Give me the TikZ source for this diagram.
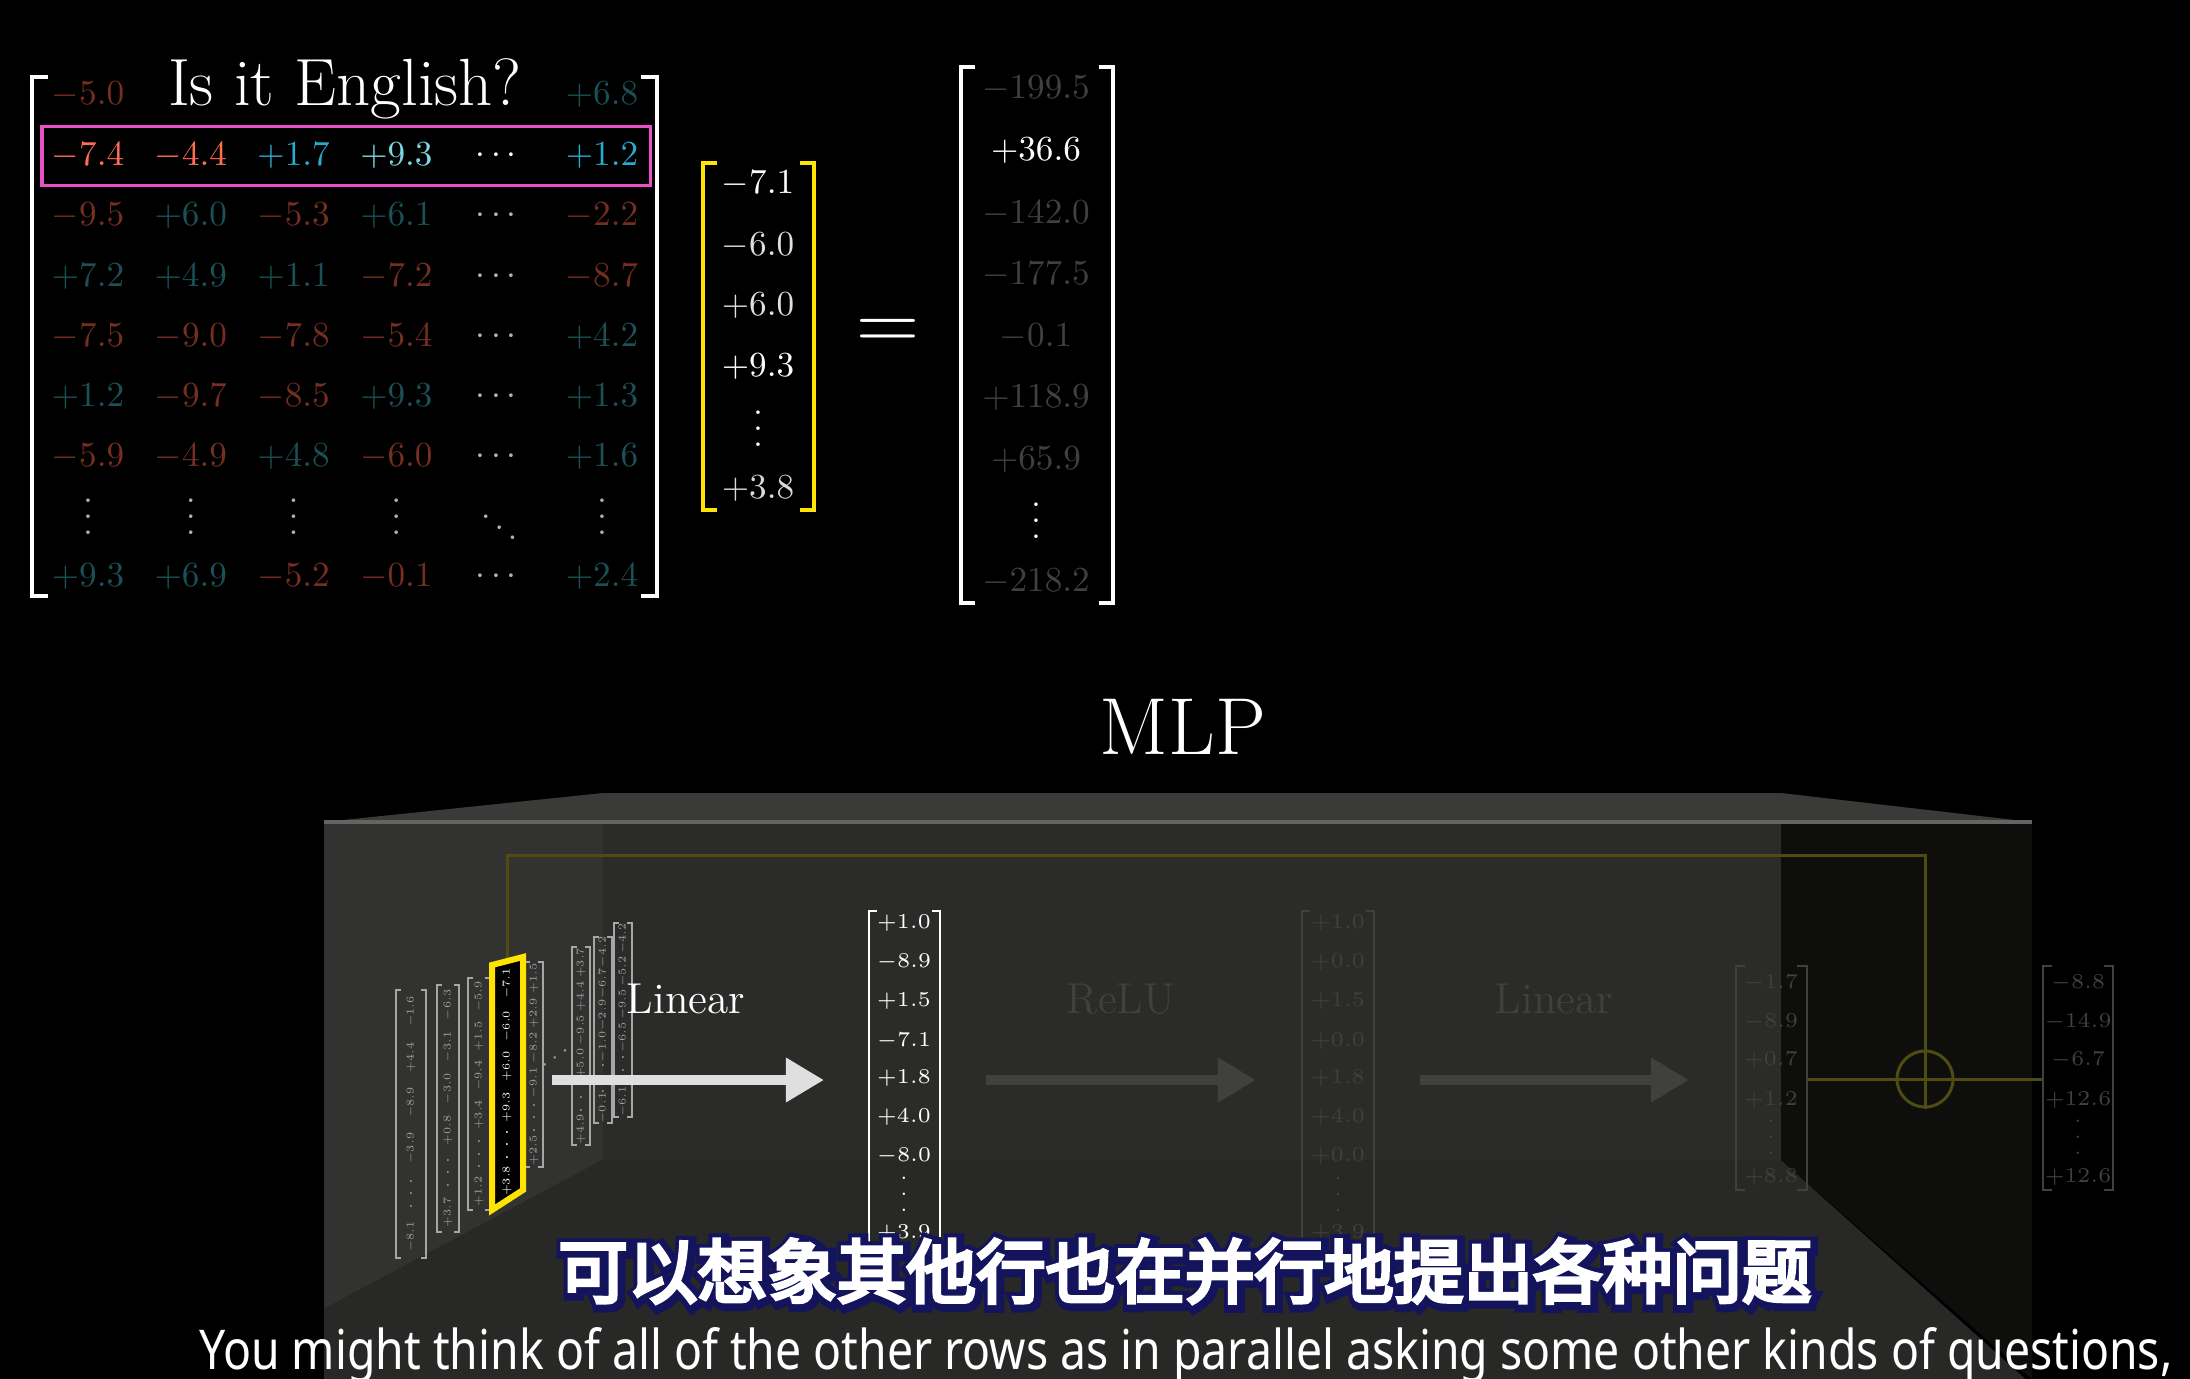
\documentclass[tikz,border=0pt]{standalone}
\usepackage{fontspec}
\usepackage{amsmath}
\usetikzlibrary{arrows.meta, positioning, calc}
\newfontfamily\cjkfont{Noto Sans CJK SC}[FakeBold=5]
\newfontfamily\cjkedge{Noto Sans CJK SC}[FakeBold=22]
\newfontfamily\subfont[FakeStretch=0.845]{Noto Sans}
\definecolor{hl-red}{RGB}{255,110,80}
\definecolor{hl-cyan}{RGB}{40,170,210}
\definecolor{hl-ice}{RGB}{125,215,225}
\definecolor{dim-red}{RGB}{118,46,32}
\definecolor{dim-teal}{RGB}{26,80,86}
\definecolor{pink-box}{RGB}{232,80,200}
\definecolor{vec-yellow}{RGB}{255,228,0}
\definecolor{res-olive}{RGB}{78,76,16}
\definecolor{sub-navy}{RGB}{20,20,92}
\definecolor{box-top}{RGB}{58,59,57}
\definecolor{box-edge}{RGB}{100,101,99}
\definecolor{box-left}{RGB}{50,51,49}
\definecolor{box-back}{RGB}{43,44,42}
\definecolor{box-floor}{RGB}{40,41,39}
\definecolor{box-right}{RGB}{14,15,13}
\definecolor{faded}{RGB}{64,65,63}
\newcommand\vdotsx{\vbox{\baselineskip4.5pt\lineskiplimit0pt\hbox{.}\hbox{.}\hbox{.}}}

\begin{document}
\begin{tikzpicture}[
  x=0.01cm, y=-0.01cm,
  num/.style={font=\fontsize{9.6}{11}\selectfont, inner sep=0pt},
  midnum/.style={font=\fontsize{5.8}{7}\selectfont, inner sep=0pt},
  tinynum/.style={font=\fontsize{5}{6}\selectfont, inner sep=0pt, rotate=90},
  brk/.style={white, line width=0.04cm},
  thinbrk/.style={line width=0.02cm},
  lbl/.style={font=\fontsize{12.3}{14}\selectfont, inner sep=0pt, anchor=base},
  fat arrow/.style={line width=0.1cm, -{Triangle[length=0.38cm, width=0.42cm]}},
  cjk/.style={font=\cjkfont\fontsize{19.8}{22}\selectfont, inner sep=0pt},
  cjkshadow/.style={font=\cjkedge\fontsize{19.8}{22}\selectfont, inner sep=0pt},
  eng/.style={font=\subfont\fontsize{15.6}{18}\selectfont, inner sep=0pt, anchor=base}
]
  \fill[black] (0,0) rectangle (2190,1379);
  \useasboundingbox (0,0) rectangle (2190,1379);

  % weight matrix
  \draw[brk] (48,77) -| (32,596) -- ++(16,0);
  \draw[brk] (641,77) -| (657,596) -- ++(-16,0);
  \node[num, text=dim-red]  (m-0-1) at (88,95)  {$-5.0$};
  \node[num, text=dim-teal] (m-0-6) at (602,95) {$+6.8$};
  \foreach \yy/\entries [count=\r] in {
    156/{hl-red/-7.4, hl-red/-4.4, hl-cyan/+1.7, hl-ice/+9.3, white/\cdots, hl-cyan/+1.2},
    216/{dim-red/-9.5, dim-teal/+6.0, dim-red/-5.3, dim-teal/+6.1, gray!60/\cdots, dim-red/-2.2},
    277/{dim-teal/+7.2, dim-teal/+4.9, dim-teal/+1.1, dim-red/-7.2, gray!60/\cdots, dim-red/-8.7},
    337/{dim-red/-7.5, dim-red/-9.0, dim-red/-7.8, dim-red/-5.4, gray!60/\cdots, dim-teal/+4.2},
    397/{dim-teal/+1.2, dim-red/-9.7, dim-red/-8.5, dim-teal/+9.3, gray!60/\cdots, dim-teal/+1.3},
    457/{dim-red/-5.9, dim-red/-4.9, dim-teal/+4.8, dim-red/-6.0, gray!60/\cdots, dim-teal/+1.6},
    517/{gray!60/\vdotsx, gray!60/\vdotsx, gray!60/\vdotsx, gray!60/\vdotsx, gray!60/\ddots, gray!60/\vdotsx},
    577/{dim-teal/+9.3, dim-teal/+6.9, dim-red/-5.2, dim-red/-0.1, gray!60/\cdots, dim-teal/+2.4}}{
    \foreach \cc/\vv [count=\c] in \entries
      \node[num, text=\cc] (m-\r-\c) at ({88+102.8*(\c-1)}, \yy) {$\vv$};
  }
  \draw[pink-box, line width=0.03cm] (42,127) rectangle (650,186);
  \node[font=\fontsize{19}{22}\selectfont, text=white, inner sep=0pt, anchor=base]
    (title) at (345,106) {Is it English?};

  % input vector
  \draw[brk, vec-yellow] (717,163) -| (703,510) -- ++(14,0);
  \draw[brk, vec-yellow] (800,163) -| (814,510) -- ++(-14,0);
  \foreach \yy/\cc/\vv [count=\k] in {184/white/-7.1, 246/gray!25/-6.0, 306/gray!25/+6.0,
      367/white/+9.3, 429/white/\vdotsx, 489/gray!30/+3.8}
    \node[num, text=\cc] (x-\k) at (758,\yy) {$\vv$};

  \node[font=\fontsize{26}{28}\selectfont, text=white, inner sep=0pt] (eq) at (888,335) {$=$};

  % result vector
  \draw[brk] (975,67) -| (961,603) -- ++(14,0);
  \draw[brk] (1099,67) -| (1113,603) -- ++(-14,0);
  \foreach \yy/\cc/\vv [count=\k] in {89/faded/-199.5, 151/white/+36.6, 214/faded/-142.0,
      275/faded/-177.5, 337/faded/-0.1, 398/faded/+118.9, 460/faded/+65.9,
      521/white/\vdotsx, 582/faded/-218.2}
    \node[num, text=\cc] (y-\k) at (1036,\yy) {$\vv$};

  \node[font=\fontsize{23}{26}\selectfont, text=white, inner sep=0pt] (mlp) at (1183,727) {MLP};

  % the MLP block
  \fill[box-top]   (324,822) -- (603,793) -- (1781,793) -- (2032,822) -- cycle;
  \fill[box-left]  (324,822) -- (603,822) -- (603,1160) -- (324,1309) -- cycle;
  \fill[box-back]  (603,822) rectangle (1781,1160);
  \fill[box-floor] (324,1309) -- (603,1160) -- (1781,1160) -- (2032,1385) -- (2032,1379) -- (324,1379) -- cycle;
  \fill[box-right] (1781,822) -- (2032,822) -- (2032,1379) -- (1781,1160) -- cycle;
  \draw[box-edge, line width=0.04cm] (324,822) -- (2032,822);

  % residual path
  \coordinate (res-start) at (507,961);
  \node[circle, draw=res-olive, line width=0.03cm, minimum size=0.56cm, inner sep=0pt] (plus) at (1925,1079) {};
  \draw[res-olive, line width=0.03cm] (plus.west) -- (plus.east) (plus.north) -- (plus.south);
  \draw[res-olive, line width=0.03cm] (res-start) -- (507,855) -| (plus.north);

  % embedding columns
  \foreach \cx/\hw/\ct/\cb/\vals [count=\i] in {
      411/15/990/1258/{-1.6,+4.4,-8.9,-3.9,-8.1},
      448/11/985/1232/{-6.3,-3.1,-3.0,+0.8,+3.7},
      479/11/978/1210/{-5.9,+1.5,-9.4,+3.4,+1.2},
      534/9/962/1167/{+1.5,+2.9,-8.2,-9.1,+2.5},
      581/9/947/1145/{+3.7,+4.4,-9.5,+5.0,+4.9},
      603/9/937/1123/{-4.2,-6.7,-2.9,-1.0,-0.1},
      623/9/923/1117/{-4.2,-5.2,-9.5,-6.5,-6.1}}{
    \draw[thinbrk, gray!70] (\cx-\hw+5,\ct) -| (\cx-\hw,\cb) -- ++(5,0);
    \draw[thinbrk, gray!70] (\cx+\hw-5,\ct) -| (\cx+\hw,\cb) -- ++(-5,0);
    \foreach \v [count=\k] in \vals {
      \pgfmathsetmacro\t{ifthenelse(\k==5,0.92,0.08+0.17*(\k-1))}
      \node[tinynum, text=gray!75] (w-\i-\k) at (\cx,{\ct+\t*(\cb-\ct)}) {\scalebox{0.6}{$\v$}};
    }
    \node[midnum, text=gray!75] (w-\i-d) at (\cx,{\ct+0.76*(\cb-\ct)}) {\scalebox{0.8}{\vdotsx}};
  }
  \node[midnum, text=gray!75, rotate=35] (w-dots) at (557,1057) {$\cdots$};
  % highlighted column
  \filldraw[vec-yellow, fill=black, line width=0.06cm] (492,965) -- (523,957) -- (523,1190) -- (492,1210) -- cycle;
  \foreach \v/\t [count=\k] in {-7.1/0.09, -6.0/0.27, +6.0/0.44, +9.3/0.61, +3.8/0.92}
    \node[tinynum, text=white] (h-\k) at (507,{962+\t*(1200-962)}) {\scalebox{0.6}{$\v$}};
  \node[midnum, text=white] (h-d) at (507,1145) {\scalebox{0.8}{\vdotsx}};

  % first linear
  \draw[fat arrow, gray!25] (552,1080) -- (824,1080);
  \node[lbl, text=white] (lin1) at (686,1013) {Linear};
  \draw[thinbrk, white] (877,911) -| (869,1243);
  \draw[thinbrk, white] (932,911) -| (940,1243);
  \foreach \yy/\vv [count=\k] in {923/+1.0, 962/-8.9, 1001/+1.5, 1041/-7.1, 1078/+1.8,
      1117/+4.0, 1156/-8.0, 1194/\vdotsx, 1233/+3.9}
    \node[midnum, text=white] (h1-\k) at (904,\yy) {$\vv$};

  % relu
  \draw[fat arrow, faded] (986,1080) -- (1256,1080);
  \node[lbl, text=faded] (relu) at (1121,1013) {ReLU};
  \draw[thinbrk, faded] (1310,911) -| (1302,1243);
  \draw[thinbrk, faded] (1366,911) -| (1374,1243);
  \foreach \yy/\vv [count=\k] in {923/+1.0, 962/+0.0, 1001/+1.5, 1041/+0.0, 1078/+1.8,
      1117/+4.0, 1156/+0.0, 1194/\vdotsx, 1233/+3.9}
    \node[midnum, text=faded] (h2-\k) at (1338,\yy) {$\vv$};

  % second linear
  \draw[fat arrow, faded] (1420,1080) -- (1689,1080);
  \node[lbl, text=faded] (lin2) at (1554,1013) {Linear};
  \draw[thinbrk, faded] (1745,966) -| (1736,1190) -- ++(9,0);
  \draw[thinbrk, faded] (1797,966) -| (1807,1190) -- ++(-10,0);
  \foreach \yy/\vv [count=\k] in {983/-1.7, 1022/-8.9, 1060/+0.7, 1100/+1.2,
      1137/\vdotsx, 1177/+8.8}
    \node[midnum, text=faded] (h3-\k) at (1771,\yy) {$\vv$};
  \draw[res-olive, line width=0.03cm] (1808,1079) -- (plus.west);

  % output
  \draw[thinbrk, faded] (2052,966) -| (2043,1190) -- ++(9,0);
  \draw[thinbrk, faded] (2104,966) -| (2113,1190) -- ++(-9,0);
  \foreach \yy/\vv [count=\k] in {983/-8.8, 1022/-14.9, 1060/-6.7, 1100/+12.6,
      1137/\vdotsx, 1177/+12.6}
    \node[midnum, text=faded] (out-\k) at (2078,\yy) {$\vv$};
  \draw[res-olive, line width=0.03cm] (plus.east) -- (2042,1079);

  % subtitles
  \node[cjkshadow, text=sub-navy] (zh-edge) at (1187,1273) {可以想象其他行也在并行地提出各种问题};
  \node[cjk, text=white] (zh) at (1185,1271) {可以想象其他行也在并行地提出各种问题};
  \node[eng, text=white] (en) at (1186,1369) {You might think of all of the other rows as in parallel asking some other kinds of questions,};
\end{tikzpicture}
\end{document}
